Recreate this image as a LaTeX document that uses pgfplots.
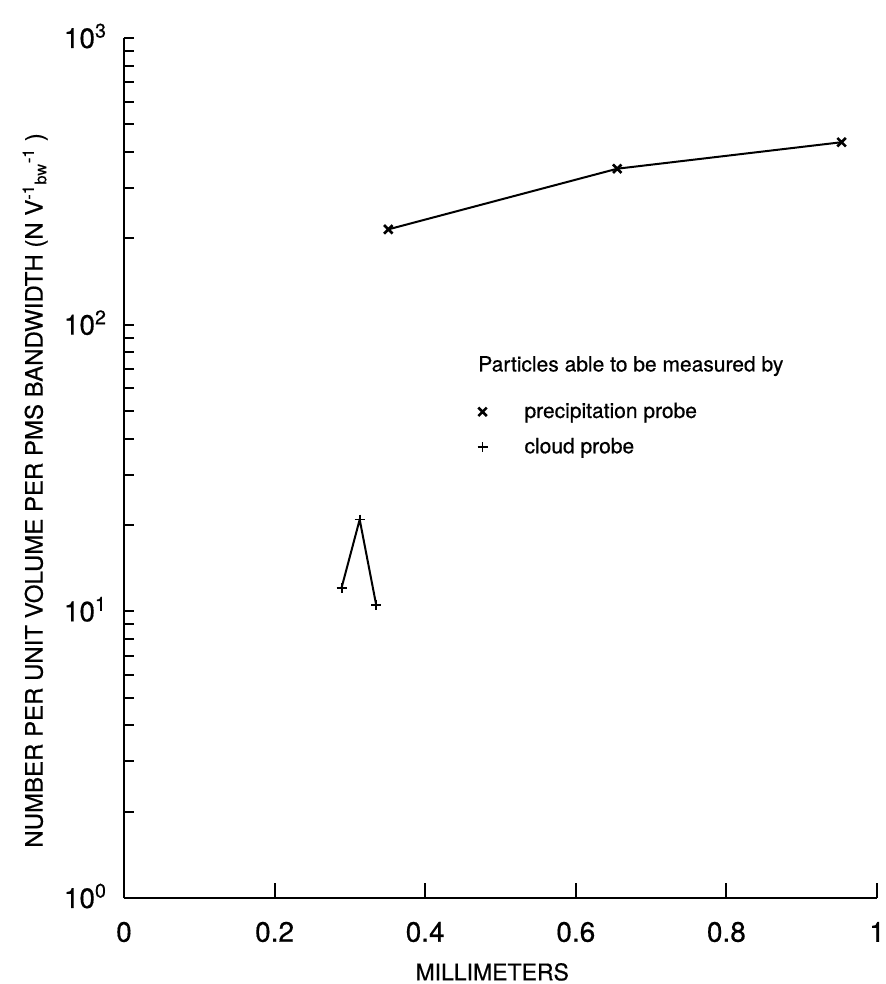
\documentclass[border=0pt]{standalone}
\usepackage{fontspec}
\setmainfont[FakeBold=0.5]{TeX Gyre Heros}
\usepackage{pgfplots}
\pgfplotsset{compat=1.18}
\begin{document}
\begin{tikzpicture}
\begin{axis}[
  name=ax,
  scale only axis,
  width=376.5pt, height=430pt,
  ymode=log,
  xmin=0, xmax=1, ymin=1, ymax=1000,
  axis x line=bottom, axis y line=left,
  axis line style={-, line width=1.2pt},
  xtick={0,0.2,0.4,0.6,0.8,1},
  xticklabels={0,0.2,0.4,0.6,0.8,1},
  ytick={1,10,100,1000},
  yticklabels={10\textsuperscript{0},10\textsuperscript{1},10\textsuperscript{2},10\textsuperscript{3}},
  minor ytick={1,2,3,4,5,6,7,8,9,10,20,30,40,50,60,70,80,90,100,200,300,400,500,600,700,800,900,1000},
  every major y tick/.style={draw=none},
  tick style={line width=1pt, black},
  tick align=inside,
  major tick length=7.5pt,
  minor tick length=5pt,
  ticklabel style={font=\fontsize{14}{16}\selectfont},
  xticklabel style={anchor=center, yshift=-17pt},
  yticklabel style={anchor=base east, xshift=-5pt, yshift=-5pt},
  xlabel={MILLIMETERS},
  xlabel style={at={(axis description cs:0.489,-0.086)}, anchor=center, font=\fontsize{11.5}{13}\selectfont},
  ylabel={NUMBER PER UNIT VOLUME PER PMS BANDWIDTH (N V\textsuperscript{-1}\textsubscript{bw}\textsuperscript{-1} )},
  ylabel style={at={(axis description cs:-0.118,0.474)}, anchor=center, font=\fontsize{12}{14}\selectfont},
  clip=false,
  legend style={at={(axis cs:0.469,43.1)}, anchor=west, draw=none, fill=none,
    font=\fontsize{10.5}{12.5}\selectfont, row sep=4.5pt, inner sep=0pt},
  legend cell align=left,
  legend image code/.code={\draw[#1] plot[only marks] coordinates {(0.2cm,0cm)};},
]
\addplot[black, line width=1pt, mark=x, mark size=3pt, mark options={line width=1.3pt}]
  coordinates {(0.351,215) (0.655,350) (0.953,433)};
\addlegendentry{\hspace*{16.5pt}precipitation probe}
\addplot[black, line width=1pt, mark=+, mark size=2.5pt, mark options={line width=0.9pt}]
  coordinates {(0.289,12.1) (0.313,20.9) (0.335,10.5)};
\addlegendentry{\hspace*{16.5pt}cloud probe}
\node[anchor=west, font=\fontsize{10.5}{12.5}\selectfont, inner sep=0pt] at (axis cs:0.470,71.7) {Particles able to be measured by};
\end{axis}
\pgfresetboundingbox
\path (ax.south west) ++(-62pt,-43pt) rectangle ++(443pt,492pt);
\end{tikzpicture}
\end{document}
